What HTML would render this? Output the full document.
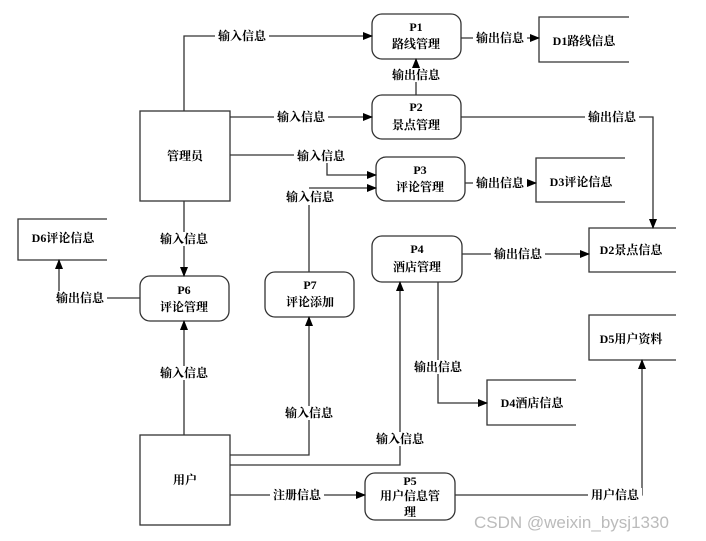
<!DOCTYPE html>
<html><head><meta charset="utf-8"><style>
html,body{margin:0;padding:0;background:#fff;}
svg{display:block;}
text{font-family:"Liberation Serif","Noto Serif CJK SC",serif;font-size:12px;font-weight:bold;fill:#000;}
.l{fill:#fff;}
</style></head><body>
<svg width="706" height="541" viewBox="0 0 706 541" xmlns="http://www.w3.org/2000/svg">
<defs><marker id="a" markerWidth="10" markerHeight="8" refX="9" refY="4" orient="auto" markerUnits="userSpaceOnUse"><path d="M0,0 L10,4 L0,8 z" fill="#000"/></marker></defs>
<g fill="none" stroke="#333" stroke-width="1.3">
<rect x="140" y="111" width="90" height="90"/>
<rect x="140" y="435" width="90" height="90"/>
<rect x="372" y="14" width="89" height="45" rx="10"/>
<rect x="372" y="95" width="89" height="44" rx="10"/>
<rect x="376" y="157" width="89" height="44" rx="10"/>
<rect x="372" y="236" width="90" height="46" rx="10"/>
<rect x="140" y="276" width="89" height="45" rx="10"/>
<rect x="265" y="272" width="89" height="45" rx="10"/>
<rect x="365" y="473" width="90" height="47" rx="10"/>
<path d="M629,17 H539 V62 H629"/>
<path d="M625,158 H536 V202 H625"/>
<path d="M676,228 H589 V272 H676"/>
<path d="M676,315 H589 V360 H676"/>
<path d="M576,380 H487 V425 H576"/>
<path d="M107,219 H18 V260 H107"/>
<path d="M184,111 V36 H372" marker-end="url(#a)"/>
<path d="M230,117 H372" marker-end="url(#a)"/>
<path d="M230,155 H320 M327,163 V175 H376" marker-end="url(#a)"/>
<path d="M309,272 V205 M309,188 H376" marker-end="url(#a)"/>
<path d="M416,95 V59" marker-end="url(#a)"/>
<path d="M461,38 H539" marker-end="url(#a)"/>
<path d="M465,183 H536" marker-end="url(#a)"/>
<path d="M461,117 H653 V228" marker-end="url(#a)"/>
<path d="M462,254 H589" marker-end="url(#a)"/>
<path d="M438,282 V403 H487" marker-end="url(#a)"/>
<path d="M184,201 V276" marker-end="url(#a)"/>
<path d="M140,298 H59 V260" marker-end="url(#a)"/>
<path d="M184,435 V321" marker-end="url(#a)"/>
<path d="M230,455 H309 V317" marker-end="url(#a)"/>
<path d="M230,465 H400 V282" marker-end="url(#a)"/>
<path d="M230,495 H365" marker-end="url(#a)"/>
<path d="M455,495 H642 V360" marker-end="url(#a)"/>
</g>
<g text-anchor="middle">
<rect class="l" x="215" y="29" width="54" height="14"/><text x="242" y="40">输入信息</text>
<rect class="l" x="274" y="110" width="54" height="14"/><text x="301" y="121">输入信息</text>
<rect class="l" x="294" y="149" width="54" height="14"/><text x="321" y="160">输入信息</text>
<rect class="l" x="283" y="190" width="54" height="14"/><text x="310" y="201">输入信息</text>
<rect class="l" x="389" y="68" width="54" height="14"/><text x="416" y="79">输出信息</text>
<rect class="l" x="473" y="31" width="54" height="14"/><text x="500" y="42">输出信息</text>
<rect class="l" x="473" y="176" width="54" height="14"/><text x="500" y="187">输出信息</text>
<rect class="l" x="585" y="110" width="54" height="14"/><text x="612" y="121">输出信息</text>
<rect class="l" x="491" y="247" width="54" height="14"/><text x="518" y="258">输出信息</text>
<rect class="l" x="411" y="360" width="54" height="14"/><text x="438" y="371">输出信息</text>
<rect class="l" x="157" y="232" width="54" height="14"/><text x="184" y="243">输入信息</text>
<rect class="l" x="53" y="291" width="54" height="14"/><text x="80" y="302">输出信息</text>
<rect class="l" x="157" y="366" width="54" height="14"/><text x="184" y="377">输入信息</text>
<rect class="l" x="282" y="406" width="54" height="14"/><text x="309" y="417">输入信息</text>
<rect class="l" x="373" y="432" width="54" height="14"/><text x="400" y="443">输入信息</text>
<rect class="l" x="270" y="488" width="54" height="14"/><text x="297" y="499">注册信息</text>
<rect class="l" x="588" y="488" width="54" height="14"/><text x="615" y="499">用户信息</text>
<text x="185" y="160">管理员</text>
<text x="185" y="484">用户</text>
<text x="416" y="31">P1</text><text x="416" y="48">路线管理</text>
<text x="416" y="111">P2</text><text x="416" y="129">景点管理</text>
<text x="420" y="174">P3</text><text x="420" y="191">评论管理</text>
<text x="417" y="253">P4</text><text x="417" y="271">酒店管理</text>
<text x="184" y="294">P6</text><text x="184" y="311">评论管理</text>
<text x="310" y="289">P7</text><text x="310" y="306">评论添加</text>
<text x="410" y="485">P5</text><text x="410" y="500">用户信息管</text><text x="410" y="516">理</text>
<text x="584" y="45">D1路线信息</text>
<text x="581" y="186">D3评论信息</text>
<text x="631" y="254">D2景点信息</text>
<text x="631" y="343">D5用户资料</text>
<text x="532" y="407">D4酒店信息</text>
<text x="63" y="242">D6评论信息</text>
</g>
<text x="474" y="528" style="font-family:'Liberation Sans','DejaVu Sans',sans-serif;font-size:17px;font-weight:normal;fill:#bbb;">CSDN @weixin_bysj1330</text>
</svg>
</body></html>
